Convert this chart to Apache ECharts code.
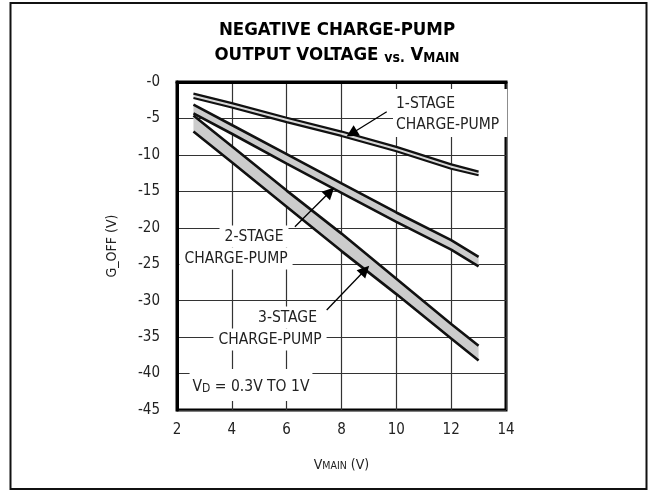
<!DOCTYPE html>
<html><head><meta charset="utf-8">
<script src="https://cdn.jsdelivr.net/npm/echarts@6/dist/echarts.min.js"></script>
<style>html,body{margin:0;padding:0;background:#fff}#c{width:649px;height:491px}</style>
</head><body><div id="c"></div>
<script>
const xVals = [2.6, 4, 6, 8, 10, 12, 13];
const stage1Upper = [-1.6, -2.9, -4.9, -6.8, -8.9, -11.3, -12.3];
const stage1Lower = [-2.2, -3.5, -5.5, -7.4, -9.5, -11.9, -12.8];
const stage2Upper = [-3.1, -5.9, -9.9, -13.9, -17.9, -21.7, -24.0];
const stage2Lower = [-4.3, -7.1, -11.2, -15.2, -19.2, -23.0, -25.3];
const stage3Upper = [-4.6, -8.8, -14.9, -20.8, -27.0, -33.2, -36.2];
const stage3Lower = [-6.8, -11.0, -17.1, -23.2, -29.1, -35.2, -38.2];
const xTickLabels = ['2', '4', '6', '8', '10', '12', '14'];
const yTickLabels = ['-0', '-5', '-10', '-15', '-20', '-25', '-30', '-35', '-40', '-45'];
const arrow1 = [[9.65, -4.08], [8.37, -7.06]];
const arrow2 = [[6.30, -19.85], [7.58, -15.05]];
const arrow3 = [[7.46, -31.28], [8.86, -25.8]];

const FONT = "'Liberation Sans Narrow', 'DejaVu Sans Condensed', 'Liberation Sans', sans-serif";

function pairs(arr) { return xVals.map((x, i) => [x, arr[i]]); }

function band(upper, lower, fill) {
  return {
    type: 'custom', coordinateSystem: 'cartesian2d', silent: true, z: 1,
    data: [[xVals[0], upper[0]]],
    renderItem: function (params, api) {
      const pts = [];
      for (let i = 0; i < xVals.length; i++) pts.push(api.coord([xVals[i], upper[i]]));
      for (let i = xVals.length - 1; i >= 0; i--) pts.push(api.coord([xVals[i], lower[i]]));
      return { type: 'polygon', shape: { points: pts }, style: { fill: fill, stroke: null } };
    }
  };
}
function edge(arr, w, ml) {
  const s = {
    type: 'line', data: pairs(arr), symbol: 'none', silent: true, z: 3,
    lineStyle: { color: '#111', width: w }
  };
  if (ml) {
    s.markLine = {
      silent: true, symbol: ['none', 'triangle'], symbolSize: 12,
      label: { show: false },
      lineStyle: { color: '#000', width: 1.3, type: 'solid' },
      data: [[{ coord: ml[0] }, { coord: ml[1] }]]
    };
  }
  return s;
}

function lbl(text, x, y, pad) {
  return {
    type: 'text', x: x, y: y, z: 50,
    style: {
      text: text, font: "15.5px " + FONT, fill: '#222', align: 'center', verticalAlign: 'middle',
      backgroundColor: '#fff', padding: pad || [3, 5]
    }
  };
}

const chart = echarts.init(document.getElementById('c'));
chart.setOption({
  animation: false,
  backgroundColor: '#fff',
  grid: { left: 177, top: 82, width: 329, height: 328, show: true, borderColor: '#000', borderWidth: 3, backgroundColor: 'transparent' },
  xAxis: {
    type: 'value', min: 2, max: 14, interval: 2,
    axisLine: { show: true, lineStyle: { color: '#000', width: 3 } },
    axisTick: { show: false },
    splitLine: { show: true, lineStyle: { color: '#333', width: 1.2 } },
    axisLabel: { margin: 13, color: '#222', fontSize: 15, fontFamily: FONT,
      formatter: v => xTickLabels[Math.round((v - 2) / 2)] },
    name: '{a|V}{s|MAIN}{a| (V)}', nameLocation: 'middle', nameGap: 44,
    nameTextStyle: { rich: {
      a: { fontSize: 14, fontFamily: FONT, color: '#222', lineHeight: 18, verticalAlign: 'bottom' },
      s: { fontSize: 10.5, fontFamily: FONT, color: '#222', lineHeight: 10, verticalAlign: 'bottom' }
    } }
  },
  yAxis: {
    type: 'value', min: -45, max: 0, interval: 5,
    axisLine: { show: true, lineStyle: { color: '#000', width: 3 } },
    axisTick: { show: false },
    splitLine: { show: true, lineStyle: { color: '#333', width: 1.2 } },
    axisLabel: { margin: 17, color: '#222', fontSize: 15, fontFamily: FONT,
      formatter: v => yTickLabels[Math.round(-v / 5)] },
    name: 'G_OFF (V)', nameLocation: 'middle', nameGap: 58,
    nameTextStyle: { fontSize: 14, fontFamily: FONT, color: '#222' }
  },
  series: [
    band(stage1Upper, stage1Lower, '#d8d8d8'),
    band(stage2Upper, stage2Lower, '#cccccc'),
    band(stage3Upper, stage3Lower, '#cccccc'),
    edge(stage1Upper, 2.2, arrow1), edge(stage1Lower, 2.2),
    edge(stage2Upper, 2.6, arrow2), edge(stage2Lower, 2.6),
    edge(stage3Upper, 2.6, arrow3), edge(stage3Lower, 2.6)
  ],
  graphic: [
    { type: 'rect', shape: { x: 10.5, y: 3, width: 636, height: 486 }, style: { fill: null, stroke: '#111', lineWidth: 2 }, z: 0 },
    { type: 'text', x: 337, y: 15, z: 50, style: {
        text: '{t|NEGATIVE CHARGE-PUMP}\n{t|OUTPUT VOLTAGE }{v|vs.}{t| V}{s|MAIN}',
        align: 'center', verticalAlign: 'top',
        rich: {
          t: { font: "bold 18.5px " + FONT, fill: '#000', lineHeight: 25, verticalAlign: 'bottom' },
          v: { font: "bold 14px " + FONT, fill: '#000', lineHeight: 22, verticalAlign: 'bottom' },
          s: { font: "bold 13.5px " + FONT, fill: '#000', lineHeight: 13, verticalAlign: 'bottom' }
        }
    } },
    { type: 'text', x: 393, y: 89, z: 50, style: {
        text: '1-STAGE\nCHARGE-PUMP', font: "15.5px " + FONT, fill: '#222', align: 'left', verticalAlign: 'top',
        lineHeight: 21, backgroundColor: '#fff', padding: [4, 8, 2, 3]
    } },
    lbl('2-STAGE', 254, 236.5),
    lbl('CHARGE-PUMP', 236, 258.5),
    lbl('3-STAGE', 287.5, 317.5),
    lbl('CHARGE-PUMP', 270, 339.5),
    { type: 'text', x: 251, y: 385, z: 50, style: {
        text: '{a|V}{s|D}{a| = 0.3V TO 1V}', align: 'center', verticalAlign: 'middle',
        backgroundColor: '#fff', padding: [8, 3, 6, 3],
        rich: {
          a: { font: "15.5px " + FONT, fill: '#222', lineHeight: 18, verticalAlign: 'bottom' },
          s: { font: "12px " + FONT, fill: '#222', lineHeight: 12, verticalAlign: 'bottom' }
        }
    } }
  ]
});
</script>
</body></html>
